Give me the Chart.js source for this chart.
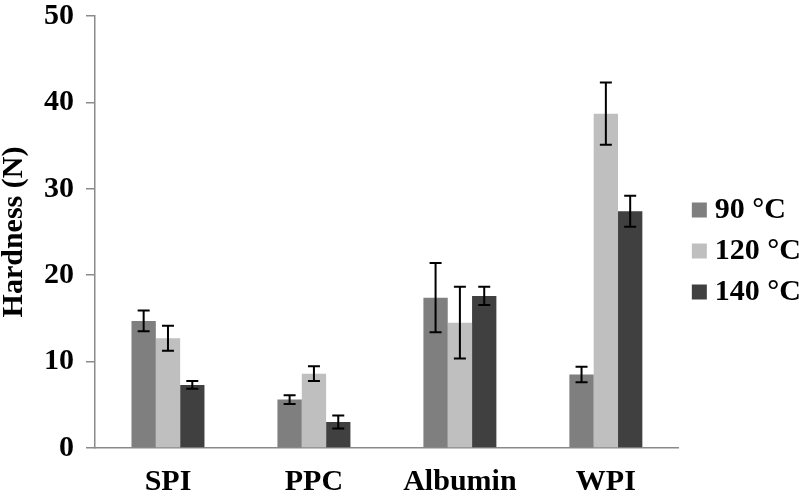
<!DOCTYPE html>
<html>
<head>
<meta charset="utf-8">
<script src="https://cdn.jsdelivr.net/npm/chart.js@4.4.1/dist/chart.umd.min.js"></script>
<style>
  html, body { margin: 0; padding: 0; background: #fff; }
  #wrap { width: 799px; height: 502px; }
</style>
</head>
<body>
<div id="wrap"><canvas id="c" width="799" height="502"></canvas></div>
<script>
// ---- data ----
const categories = ['SPI', 'PPC', 'Albumin', 'WPI'];
const seriesNames = ['90 °C', '120 °C', '140 °C'];
const hardness90 = [14.7, 5.6, 17.4, 8.5];
const hardness120 = [12.7, 8.6, 14.5, 38.7];
const hardness140 = [7.3, 3.0, 17.6, 27.4];
const err90 = [1.2, 0.5, 4.0, 0.9];
const err120 = [1.45, 0.85, 4.15, 3.6];
const err140 = [0.45, 0.75, 1.05, 1.8];
const yTicks = [0, 10, 20, 30, 40, 50];

const FONT = "'Liberation Serif', 'Times New Roman', serif";
const colors = ['#7f7f7f', '#bfbfbf', '#404040'];
const errs = [err90, err120, err140];

const errorBars = {
  id: 'errorBars',
  afterDatasetsDraw(chart) {
    const ctx = chart.ctx;
    const y = chart.scales.y;
    ctx.save();
    ctx.strokeStyle = '#000';
    ctx.lineWidth = 2;
    chart.data.datasets.forEach((ds, di) => {
      const meta = chart.getDatasetMeta(di);
      meta.data.forEach((bar, i) => {
        const v = ds.data[i], e = ds.err[i];
        const x = bar.x;
        const yt = y.getPixelForValue(v + e);
        const yb = y.getPixelForValue(v - e);
        const cap = 6;
        ctx.beginPath();
        ctx.moveTo(x, yt); ctx.lineTo(x, yb);
        ctx.moveTo(x - cap, yt); ctx.lineTo(x + cap, yt);
        ctx.moveTo(x - cap, yb); ctx.lineTo(x + cap, yb);
        ctx.stroke();
      });
    });
    ctx.restore();
  }
};

const legendShift = {
  id: 'legendShift',
  afterLayout(chart) {
    const lg = chart.legend;
    if (!lg) return;
    lg.left += 9; lg.right += 9;
    lg.top -= 3; lg.bottom -= 3;
  }
};

new Chart(document.getElementById('c'), {
  type: 'bar',
  data: {
    labels: categories,
    datasets: [hardness90, hardness120, hardness140].map((d, i) => ({
      label: seriesNames[i],
      data: d,
      err: errs[i],
      backgroundColor: colors[i],
      borderWidth: 0,
      categoryPercentage: 0.5,
      barPercentage: 1.0,
      pointStyle: 'rect'
    }))
  },
  options: {
    responsive: false,
    animation: false,
    devicePixelRatio: 1,
    layout: { padding: { top: -8, right: -3, left: -4, bottom: -14 } },
    plugins: {
      tooltip: { enabled: false },
      legend: {
        position: 'right',
        labels: {
          usePointStyle: true,
          boxWidth: 1,
          boxHeight: 15,
          padding: 11,
          color: '#000',
          font: { family: FONT, size: 30, weight: 'bold' }
        }
      }
    },
    scales: {
      x: {
        grid: { display: false, drawTicks: false },
        border: { color: '#8a8a8a', width: 1.5 },
        ticks: {
          color: '#000',
          padding: 16,
          font: { family: FONT, size: 30, weight: 'bold' }
        }
      },
      y: {
        min: 0,
        max: 50,
        afterBuildTicks(scale) { scale.ticks = yTicks.map(v => ({ value: v })); },
        afterFit(scale) { scale.paddingTop = 16; scale.paddingBottom = 16; },
        grid: { display: true, drawOnChartArea: false, drawTicks: true, tickLength: 9, color: '#8a8a8a', lineWidth: 1.5 },
        border: { color: '#8a8a8a', width: 1.5 },
        ticks: {
          color: '#000',
          padding: 12,
          font: { family: FONT, size: 30, weight: 'bold' }
        },
        title: {
          display: true,
          text: 'Hardness (N)',
          color: '#000',
          padding: { top: 0, bottom: 0 },
          font: { family: FONT, size: 30, weight: 'bold' }
        }
      }
    }
  },
  plugins: [errorBars, legendShift]
});
</script>
</body>
</html>
